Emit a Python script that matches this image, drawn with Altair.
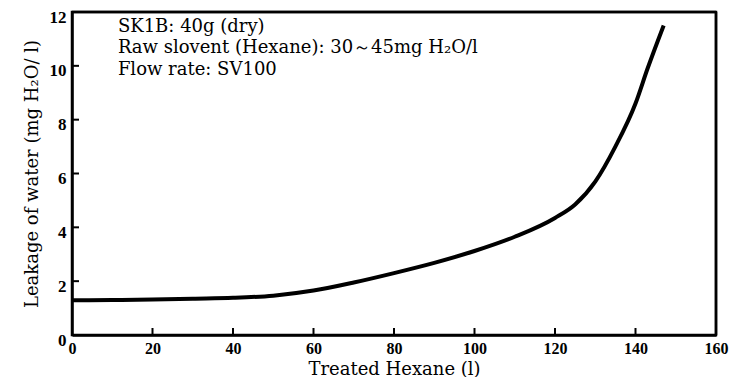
import altair as alt
import pandas as pd

# curve
hexane = [0, 10, 20, 30, 40, 50, 60, 70, 80, 90, 100, 110, 120, 125, 130, 135, 140, 143, 147]
leak = [1.29, 1.30, 1.32, 1.35, 1.38, 1.46, 1.65, 1.95, 2.3, 2.68, 3.12, 3.65, 4.35, 4.85, 5.7, 7.0, 8.6, 9.9, 11.5]

x_ticks = [0, 20, 40, 60, 80, 100, 120, 140, 160]
y_ticks = [0, 2, 4, 6, 8, 10, 12]

notes = ["SK1B: 40g (dry)", "Raw slovent (Hexane): 30～45mg H₂O/l", "Flow rate: SV100"]
note_x = [11.4, 11.4, 11.4]
note_y = [11.45, 10.65, 9.85]

W, H = 644, 323
FONT = "Liberation Serif"
TFONT = "DejaVu Serif"

curve = pd.DataFrame({"x": hexane, "y": leak})
xt = pd.DataFrame({"x": x_ticks})
yt = pd.DataFrame({"y": y_ticks})
nt = pd.DataFrame({"t": notes, "x": note_x, "y": note_y})

xs = alt.Scale(domain=[0, 160], nice=False)
ys = alt.Scale(domain=[0, 12], nice=False)

line = alt.Chart(curve).mark_line(color="black", strokeWidth=4, interpolate="monotone").encode(
    x=alt.X("x:Q", scale=xs,
            axis=alt.Axis(title="Treated Hexane (l)", values=x_ticks, tickSize=0, labelPadding=5,
                          labelFont=FONT, labelFontWeight="bold", labelFontSize=16, labelColor="black",
                          titleFont=TFONT, titleFontWeight="normal", titleFontSize=18, titleColor="black",
                          titlePadding=4, domainColor="black", domainWidth=2.5, grid=False,
                          labelFlush=False)),
    y=alt.Y("y:Q", scale=ys,
            axis=alt.Axis(title="Leakage of water (mg H₂O/ l)", values=y_ticks, tickSize=0, labelPadding=6,
                          labelFont=FONT, labelFontWeight="bold", labelFontSize=17, labelColor="black",
                          labelOffset=5,
                          titleFont=TFONT, titleFontWeight="normal", titleFontSize=18, titleColor="black",
                          titlePadding=8, domainColor="black", domainWidth=2.5, grid=False,
                          labelFlush=False)),
)

xtick = alt.Chart(xt).mark_rule(color="black", strokeWidth=2).encode(
    x=alt.X("x:Q", scale=xs), y=alt.value(H), y2=alt.value(H - 7))
ytick = alt.Chart(yt).mark_rule(color="black", strokeWidth=2).encode(
    y=alt.Y("y:Q", scale=ys), x=alt.value(0), x2=alt.value(7))

# frame: top and right edges at the scale limits
top_edge = alt.Chart(pd.DataFrame({"y": [12]})).mark_rule(color="black", strokeWidth=2.5).encode(
    y=alt.Y("y:Q", scale=ys), x=alt.value(0), x2=alt.value(W))
right_edge = alt.Chart(pd.DataFrame({"x": [160]})).mark_rule(color="black", strokeWidth=2.5).encode(
    x=alt.X("x:Q", scale=xs), y=alt.value(0), y2=alt.value(H))

text = alt.Chart(nt).mark_text(align="left", baseline="middle", font=TFONT, fontSize=18, color="black").encode(
    x=alt.X("x:Q", scale=xs), y=alt.Y("y:Q", scale=ys), text="t:N")

chart = alt.layer(line, xtick, ytick, top_edge, right_edge, text).properties(
    width=W, height=H,
    background="white",
    autosize=alt.AutoSizeParams(type="none"),
    padding={"left": 64, "top": 4, "right": 28, "bottom": 42},
).configure_view(stroke="black", strokeWidth=2.5)

chart.save("out.html", embed_options={"renderer": "svg", "actions": False})
